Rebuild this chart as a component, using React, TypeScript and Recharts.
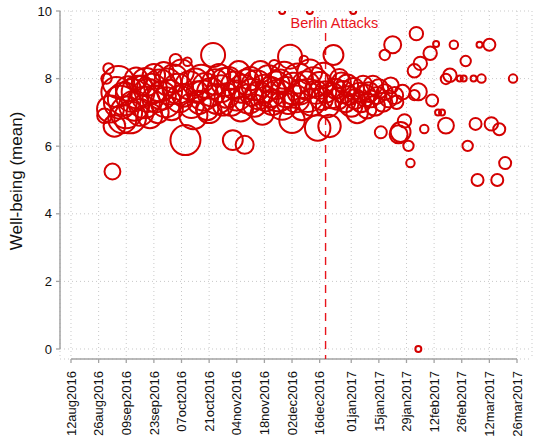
import React from "react";
import {
  ScatterChart,
  Scatter,
  XAxis,
  YAxis,
  ZAxis,
  CartesianGrid,
  ReferenceLine,
  ReferenceDot,
} from "recharts";

document.body.style.margin = "0";

// day offsets are counted from 12aug2016
const tickDays = [0, 14, 28, 42, 56, 70, 84, 98, 112, 126, 142, 156, 170, 184, 198, 212, 226];
const tickLabels = [
  "12aug2016", "26aug2016", "09sep2016", "23sep2016", "07oct2016", "21oct2016",
  "04nov2016", "18nov2016", "02dec2016", "16dec2016", "01jan2017", "15jan2017",
  "29jan2017", "12feb2017", "26feb2017", "12mar2017", "26mar2017",
];
const yTicks = [0, 2, 4, 6, 8, 10];

const days = [
  17, 18, 19, 20, 21, 22, 23, 24, 25, 26, 27, 28, 29, 30, 31, 32, 33, 34, 35, 36,
  37, 38, 39, 40, 41, 42, 43, 44, 45, 46, 47, 48, 49, 50, 51, 52, 53, 54, 55, 56,
  57, 58, 59, 60, 61, 62, 63, 64, 65, 66, 67, 68, 69, 70, 71, 72, 73, 74, 75, 76,
  77, 78, 79, 80, 81, 82, 83, 84, 85, 86, 87, 88, 89, 90, 91, 92, 93, 94, 95, 96,
  97, 98, 99, 100, 101, 102, 103, 104, 105, 106, 107, 108, 109, 110, 111, 112, 113, 114, 115, 116,
  117, 118, 119, 120, 121, 122, 123, 124, 125, 126, 127, 128, 129, 130, 131, 132, 133, 134, 135, 136,
  137, 138, 139, 140, 141, 142, 143, 144, 145, 146, 147, 148, 149, 150, 151, 152, 153, 154, 155, 156,
  158, 159, 161, 162, 164, 165, 168,
  157, 159, 163, 166, 167, 169, 171, 172, 174, 174, 175, 176, 176, 177, 179, 182, 183, 185, 186, 188,
  190, 190, 192, 194, 197, 199, 200, 201, 204, 205, 206, 207, 208, 212, 213, 216, 217, 220, 224,
  107, 121, 143,
];
const wellbeing = [
  6.9, 8.0, 8.3, 7.1, 5.25, 6.6, 7.6, 7.9, 7.3, 6.8, 7.4, 7.0, 7.7, 6.85, 7.5, 7.2, 8.0, 7.6, 7.0, 7.8,
  7.3, 7.9, 7.5, 6.9, 7.7, 8.1, 7.4, 7.0, 7.8, 7.5, 8.2, 7.3, 7.9, 7.6, 7.1, 8.0, 8.55, 7.7, 7.4, 8.2,
  7.5, 6.18, 8.5, 7.8, 7.2, 6.92, 7.9, 7.6, 7.3, 8.0, 7.5, 7.8, 7.1, 7.05, 7.6, 8.7, 7.9, 7.4, 8.1, 7.7,
  7.2, 7.9, 7.5, 8.0, 7.3, 6.18, 7.8, 7.5, 8.2, 7.1, 7.7, 6.04, 7.9, 7.4, 8.0, 7.6, 7.2, 7.8, 7.5, 8.2,
  6.98, 7.7, 7.4, 8.0, 7.6, 7.3, 8.4, 7.8, 7.5, 7.9, 7.2, 8.1, 7.6, 7.3, 8.65, 6.77, 7.7, 7.4, 8.0, 7.6,
  7.1, 8.55, 7.8, 7.5, 8.2, 7.3, 7.9, 7.6, 6.54, 7.8, 7.4, 8.1, 7.6, 7.2, 6.6, 7.5, 8.7, 7.7, 7.4, 8.0,
  7.9, 7.6, 7.3, 7.8, 7.5, 7.2, 7.7, 7.4, 7.0, 7.6, 7.3, 7.8, 7.5, 7.1, 7.6, 7.4, 7.8, 7.2, 7.5, 7.7,
  7.3, 7.6, 7.4, 7.8, 7.5, 7.3, 7.6,
  6.41, 8.7, 9.0, 6.35, 6.42, 6.75, 6.01, 5.5, 7.51, 8.23, 9.33, 7.61, 0, 8.45, 6.51, 8.75, 7.35, 9.02, 7.0, 7.0,
  7.99, 6.61, 8.1, 9.0, 8.0, 8.0, 8.52, 6.01, 8.0, 6.66, 5.0, 9.0, 8.0, 9.0, 6.66, 5.0, 6.5, 5.5, 8.0,
  10, 10, 10,
];
const respondents = [
  6, 3, 3, 20, 7, 13, 25, 28, 30, 22, 30, 28, 17, 28, 30, 25, 14, 30, 20, 11,
  28, 22, 30, 17, 25, 14, 20, 13, 28, 22, 11, 25, 20, 17, 14, 22, 4, 25, 20, 17,
  14, 25, 2, 22, 17, 22, 20, 13, 15, 21, 25, 17, 14, 17, 22, 16, 18, 25, 14, 20,
  11, 22, 17, 15, 20, 11, 21, 25, 13, 17, 22, 9, 18, 24, 15, 20, 14, 25, 21, 13,
  15, 22, 17, 20, 25, 18, 3, 21, 28, 17, 22, 20, 25, 15, 16, 18, 28, 20, 25, 17,
  14, 2, 22, 30, 17, 20, 24, 15, 18, 20, 14, 17, 13, 15, 14, 18, 11, 11, 13, 10,
  10, 14, 11, 13, 10, 14, 13, 11, 13, 10, 11, 10, 13, 10, 11, 8, 10, 11, 8, 10,
  10, 7, 8, 7, 8, 5, 6,
  4, 3, 8, 9, 11, 5, 3, 2, 3, 5, 5, 8, 1, 5, 2, 5, 4, 1, 1, 1,
  3, 7, 5, 2, 1, 1, 3, 3, 1, 4, 4, 1, 2, 4, 5, 4, 4, 4, 2,
  1, 1, 1,
];

const attackDay = 129; // 19dec2016

const points = days.map((d, i) => ({ day: d, mean: wellbeing[i], n: respondents[i] }));

const RED = "#d40000";
const LINE_RED = "#e8141c";
const AXIS = "#a3a3a3";
const FONT = "'Liberation Sans', Arial, Helvetica, sans-serif";
const X_MIN = -5.57;
const Y_MIN = -0.296;

const XTick = (props: any) => {
  const { x, y, payload } = props;
  const label = tickLabels[tickDays.indexOf(payload.value)];
  return (
    <text
      x={x}
      y={y}
      dy="0.36em"
      transform={`rotate(-90 ${x} ${y})`}
      textAnchor="end"
      fontSize={13}
      fill="#111"
    >
      {label}
    </text>
  );
};

export default function App() {
  return (
    <div style={{ width: 537, height: 440, overflow: "hidden", background: "#fff" }}>
      <ScatterChart
        width={537}
        height={440}
        margin={{ top: 11, right: 5, bottom: 0, left: 0 }}
        style={{ fontFamily: FONT }}
      >
        <CartesianGrid stroke="#c9c9c9" strokeDasharray="1 3" />
        <XAxis
          type="number"
          dataKey="day"
          domain={[X_MIN, 233.6]}
          allowDataOverflow
          ticks={tickDays}
          interval={0}
          height={81}
          axisLine={false}
          tickLine={{ stroke: AXIS, strokeWidth: 1.3 }}
          tickSize={4}
          tickMargin={8}
          tick={<XTick />}
        />
        <YAxis
          type="number"
          dataKey="mean"
          domain={[Y_MIN, 10]}
          allowDataOverflow
          ticks={yTicks}
          width={60}
          axisLine={false}
          tickLine={{ stroke: AXIS, strokeWidth: 1.3 }}
          tickSize={4}
          tickMargin={4}
          tick={{ fontSize: 13, fill: "#111" }}
          label={{
            content: () => (
              <text
                x={22}
                y={181}
                transform="rotate(-90 22 181)"
                textAnchor="middle"
                fontSize={17}
                fill="#111"
              >
                Well-being (mean)
              </text>
            ),
          }}
        />
        <ZAxis type="number" dataKey="n" domain={[0, 30]} range={[0, 848]} />
        <ReferenceLine
          segment={[{ x: X_MIN, y: 0 }, { x: X_MIN, y: 10 }]}
          stroke={AXIS}
          strokeWidth={1.5}
          ifOverflow="visible"
        />
        <ReferenceLine
          segment={[{ x: 0, y: Y_MIN }, { x: 226, y: Y_MIN }]}
          stroke={AXIS}
          strokeWidth={1.5}
          ifOverflow="visible"
        />
        <ReferenceLine
          segment={[{ x: attackDay, y: 9.35 }, { x: attackDay, y: Y_MIN }]}
          stroke={LINE_RED}
          strokeWidth={1.4}
          strokeDasharray="8 6"
          ifOverflow="visible"
        />
        <ReferenceDot
          x={attackDay + 4.5}
          y={9.64}
          r={0}
          fill="none"
          stroke="none"
          ifOverflow="visible"
          label={{
            value: "Berlin Attacks",
            position: "center",
            fontSize: 14.5,
            fill: LINE_RED,
          }}
        />
        <Scatter
          data={points}
          fill="none"
          stroke={RED}
          strokeWidth={2}
          isAnimationActive={false}
        />
      </ScatterChart>
    </div>
  );
}
